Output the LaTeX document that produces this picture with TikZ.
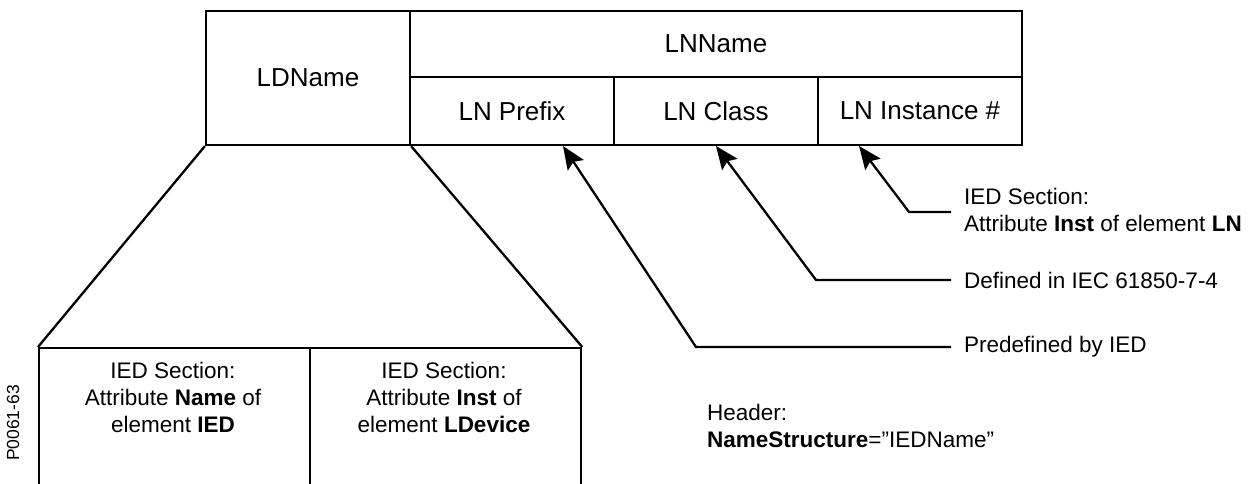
\documentclass[tikz,border=0pt]{standalone}
\usepackage{fontspec}
\setmainfont{Liberation Sans}
\usetikzlibrary{arrows.meta}
\begin{document}
\begin{tikzpicture}[x=1pt,y=-1pt,line width=2.3pt,
  cell/.style={draw=black, rectangle, inner sep=0pt, font=\fontsize{26}{31}\selectfont},
  txt/.style={inner sep=0pt, font=\fontsize{22.5}{27}\selectfont},
  arr/.style={-{Stealth[length=23pt,width=19pt,inset=4pt]}, line width=2.3pt}]
\useasboundingbox (0,0) rectangle (1256,483);
% top boxes
\node[cell, minimum width=204pt, minimum height=134pt] (LD) at (308,78) {LDName};
\node[cell, minimum width=612pt, minimum height=66pt] (LN) at (716,44) {LNName};
\node[cell, minimum width=204pt, minimum height=68pt] (PF) at (512,111) {LN Prefix};
\node[cell, minimum width=204pt, minimum height=68pt] (CL) at (716,111) {LN Class};
\node[cell, minimum width=204pt, minimum height=68pt] (IN) at (920,111) {LN Instance \#};
% bottom boxes
\node[cell, minimum width=271pt, minimum height=150pt, anchor=north west] (B1) at (38,347) {};
\node[cell, minimum width=271pt, minimum height=150pt, anchor=north west] (B2) at (309,347) {};
\node[txt, align=center] (B1t) at (173,397) {IED Section:\\Attribute \textbf{Name} of\\element \textbf{IED}};
\node[txt, align=center] (B2t) at (444,397) {IED Section:\\Attribute \textbf{Inst} of\\element \textbf{LDevice}};
% trapezoid
\draw (LD.south west) -- (B1.north west);
\draw (LD.south east) -- (B2.north east);
% labels
\node[txt, align=left, anchor=west] (L3) at (963,210) {IED Section:\\Attribute \textbf{Inst} of element \textbf{LN}};
\node[txt, anchor=west] (L2) at (963,280) {Defined in IEC 61850-7-4};
\node[txt, anchor=west] (L1) at (963,347) {Predefined by IED};
\node[txt, align=left, anchor=west] (HD) at (706,426) {Header:\\\textbf{NameStructure}=”IEDName”};
\node[rotate=90, inner sep=0pt, font=\fontsize{17.5}{20}\selectfont] (code) at (13,423) {P0061-63};
% arrows
\coordinate (t1) at (563,146);
\coordinate (t2) at (716,146);
\coordinate (t3) at (859,146);
\coordinate (b1) at (696,347);
\coordinate (b2) at (816,280);
\coordinate (b3) at (909,212);
\draw[arr] ([xshift=-12pt]L1.west) -- (b1) -- (t1);
\draw[arr] ([xshift=-12pt]L2.west) -- (b2) -- (t2);
\draw[arr] ([xshift=-12pt,yshift=-2pt]L3.west) -- (b3) -- (t3);
\end{tikzpicture}
\end{document}
